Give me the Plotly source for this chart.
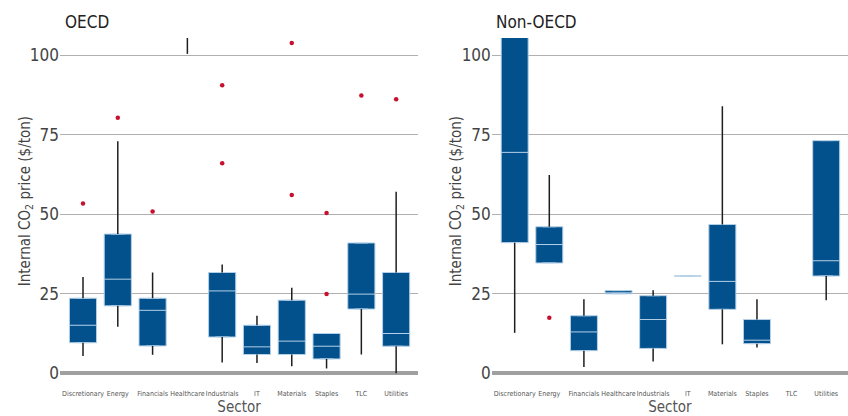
import plotly.graph_objects as go

sectors = ["Discretionary", "Energy", "Financials", "Healthcare", "Industrials",
           "IT", "Materials", "Staples", "TLC", "Utilities"]

# OECD box statistics
oecd_q1 = [9.6, 21.2, 8.6, 112.0, 11.4, 5.9, 5.9, 4.5, 20.2, 8.5]
oecd_median = [15.1, 29.6, 19.8, 115.0, 25.9, 8.3, 10.1, 8.5, 24.9, 12.5]
oecd_q3 = [23.6, 43.8, 23.6, 118.0, 31.7, 15.1, 23.0, 12.5, 41.0, 31.7]
oecd_low = [5.4, 14.6, 5.8, 100.5, 3.4, 3.2, 2.2, 1.5, 5.9, 0.0]
oecd_high = [30.3, 73.0, 31.7, 120.0, 34.2, 18.1, 26.9, 12.5, 41.0, 57.1]
oecd_out_x = ["Discretionary", "Energy", "Financials", "Industrials", "Industrials",
              "Materials", "Materials", "Staples", "Staples", "TLC", "Utilities"]
oecd_out_y = [53.4, 80.4, 50.9, 90.6, 66.1, 103.9, 56.1, 24.9, 50.4, 87.4, 86.2]

# Non-OECD box statistics (None = no data for that sector)
non_q1 = [41.1, 34.7, 7.1, 25.0, 7.8, 30.6, 20.1, 9.3, None, 30.6]
non_median = [69.5, 40.5, 13.0, 25.0, 16.9, 30.6, 28.9, 10.4, None, 35.4]
non_q3 = [115.0, 46.1, 18.1, 26.0, 24.4, 30.6, 46.8, 16.9, None, 73.2]
non_low = [12.7, 34.7, 2.0, 25.0, 3.7, 30.6, 9.1, 8.1, None, 23.0]
non_high = [115.0, 62.4, 23.3, 26.0, 26.1, 30.6, 84.0, 23.3, None, 73.2]
non_out_x = ["Energy"]
non_out_y = [17.5]

y_ticks = [0, 25, 50, 75, 100]

FONT = "DejaVu Sans Condensed"
BOX_FILL = "#02508c"
BOX_EDGE = "#b4d0e8"
WHISKER = "#1e1e1e"
OUTLIER = "#c8102e"
Y_TITLE = "Internal CO<sub>2</sub> price ($/ton)"

fig = go.Figure()


def add_panel(q1, med, q3, low, high, out_x, out_y, xa, ya):
    idx = [i for i, v in enumerate(q1) if v is not None]
    cats = [sectors[i] for i in idx]
    fig.add_trace(go.Box(
        x=cats,
        q1=[q1[i] for i in idx], median=[med[i] for i in idx], q3=[q3[i] for i in idx],
        lowerfence=[q1[i] for i in idx], upperfence=[q3[i] for i in idx],
        fillcolor=BOX_FILL, line=dict(color=BOX_EDGE, width=1.0),
        width=0.78, boxpoints=False, hoverinfo="skip",
        xaxis=xa, yaxis=ya, showlegend=False,
    ))
    wx, wy = [], []
    for i in idx:
        if low[i] < q1[i]:
            wx += [sectors[i], sectors[i], None]
            wy += [low[i], q1[i], None]
        if high[i] > q3[i]:
            wx += [sectors[i], sectors[i], None]
            wy += [q3[i], high[i], None]
    fig.add_trace(go.Scatter(
        x=wx, y=wy, mode="lines", line=dict(color=WHISKER, width=1.5),
        xaxis=xa, yaxis=ya, showlegend=False, hoverinfo="skip",
    ))
    fig.add_trace(go.Scatter(
        x=out_x, y=out_y, mode="markers",
        marker=dict(color=OUTLIER, size=4.5),
        xaxis=xa, yaxis=ya, showlegend=False,
    ))


add_panel(oecd_q1, oecd_median, oecd_q3, oecd_low, oecd_high, oecd_out_x, oecd_out_y, "x", "y")
add_panel(non_q1, non_median, non_q3, non_low, non_high, non_out_x, non_out_y, "x2", "y2")

xaxis_common = dict(
    type="category", categoryorder="array", categoryarray=sectors,
    range=[-0.66, 9.63], showgrid=False, zeroline=False, showline=False,
    ticks="", tickangle=0, automargin=False, ticklabelstandoff=10,
    tickfont=dict(family=FONT, size=7, color="#555555"),
    title=dict(text="Sector", font=dict(family=FONT, size=15, color="#555555"), standoff=5),
)
yaxis_common = dict(
    range=[-1.5, 105.5], tickvals=y_ticks, showgrid=True, automargin=False,
    gridcolor="#b0b0b0", gridwidth=1.4, zeroline=True, zerolinecolor="#a0a0a0",
    zerolinewidth=3.5, showline=False, ticks="",
    tickfont=dict(family=FONT, size=17, color="#444444"),
)


def y_title(xpos):
    return dict(text=Y_TITLE, xref="paper", yref="paper", x=xpos, y=0.52,
                xanchor="center", yanchor="middle", textangle=-90, showarrow=False,
                font=dict(family=FONT, size=15, color="#444444"))


fig.update_layout(
    width=848, height=416,
    margin=dict(l=0, r=0, t=38, b=38),
    paper_bgcolor="white", plot_bgcolor="white",
    xaxis=dict(domain=[0.0708, 0.493], anchor="y", **xaxis_common),
    yaxis=dict(domain=[0, 1], anchor="x", **yaxis_common),
    xaxis2=dict(domain=[0.580, 1.0], anchor="y2", **xaxis_common),
    yaxis2=dict(domain=[0, 1], anchor="x2", **yaxis_common),
    annotations=[
        dict(text="OECD", xref="paper", yref="paper", x=0.074, y=1.0, xanchor="left",
             yanchor="bottom", yshift=4, showarrow=False,
             font=dict(family=FONT, size=17, color="#222222")),
        dict(text="Non-OECD", xref="paper", yref="paper", x=0.583, y=1.0, xanchor="left",
             yanchor="bottom", yshift=4, showarrow=False,
             font=dict(family=FONT, size=17, color="#222222")),
        y_title(25 / 848),
        y_title(456 / 848),
    ],
)

fig.write_html("out.html")
